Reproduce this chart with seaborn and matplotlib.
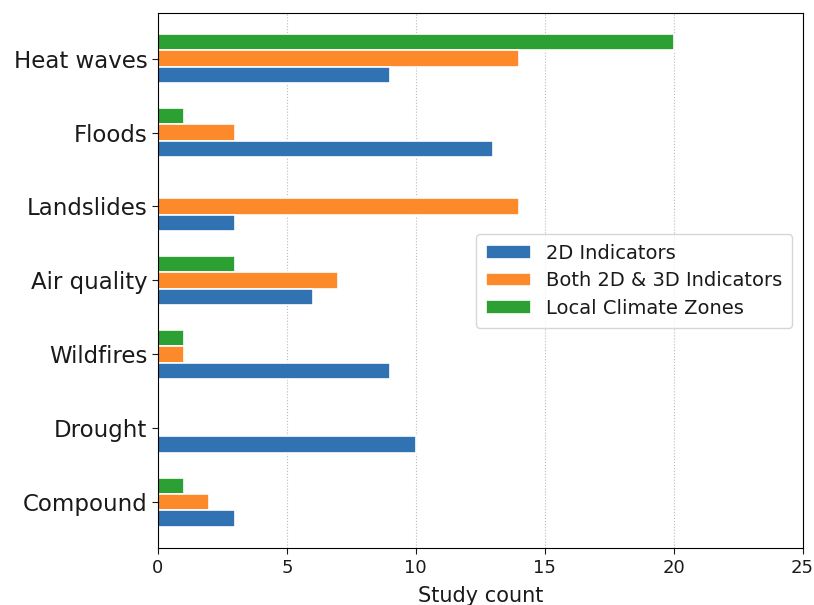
import pandas as pd
import matplotlib.pyplot as plt
import seaborn as sns

hazards = ['Heat waves', 'Floods', 'Landslides', 'Air quality', 'Wildfires', 'Drought', 'Compound']
indicators_2d = [9, 13, 3, 6, 9, 10, 3]
both_2d_3d = [14, 3, 14, 7, 1, 0, 2]
lcz = [20, 1, 0, 3, 1, 0, 1]
groups = ['2D Indicators', 'Both 2D & 3D Indicators', 'Local Climate Zones']
colors = ['#3172b3', '#fd8a2a', '#2ca033']

df = pd.DataFrame({'hazard': hazards * 3,
                   'count': indicators_2d + both_2d_3d + lcz,
                   'group': [g for g in groups for _ in hazards]})

sns.set_style('white')
plt.rcParams['text.color'] = '#1a1a1a'
plt.rcParams['xtick.color'] = '#1a1a1a'
plt.rcParams['ytick.color'] = '#1a1a1a'
plt.rcParams['axes.labelcolor'] = '#1a1a1a'

fig, ax = plt.subplots(figsize=(8.14, 6.05), dpi=100)
fig.subplots_adjust(left=0.194, right=0.986, top=0.979, bottom=0.094)

# reversed hue order so the first group sits at the bottom of each cluster
sns.barplot(data=df, y='hazard', x='count', hue='group', order=hazards,
            hue_order=groups[::-1], palette=dict(zip(groups, colors)),
            orient='h', width=0.66, edgecolor='white', linewidth=1.2,
            saturation=1, ax=ax)

ax.set_xlim(0, 25)
ax.set_ylim(6.62, -0.62)
ax.set_xticks([0, 5, 10, 15, 20, 25])
ax.grid(axis='x', linestyle=':', color='#bbbbbb', linewidth=0.8)
ax.set_axisbelow(True)
for s in ax.spines.values():
    s.set_color('black')
    s.set_linewidth(0.8)
ax.tick_params(axis='y', labelsize=16.5, length=4, width=0.8, left=True)
ax.tick_params(axis='x', labelsize=13, length=4, width=0.8, bottom=True)
ax.set_ylabel('')
ax.set_xlabel('Study count', fontsize=15, labelpad=7)

h, l = ax.get_legend_handles_labels()
ax.legend(h[::-1], l[::-1], loc='upper right', bbox_to_anchor=(0.984, 0.587),
          borderaxespad=0, fontsize=14, frameon=True, handlelength=2.3,
          borderpad=0.5, labelspacing=0.45)

plt.savefig('out.png', dpi=100)
